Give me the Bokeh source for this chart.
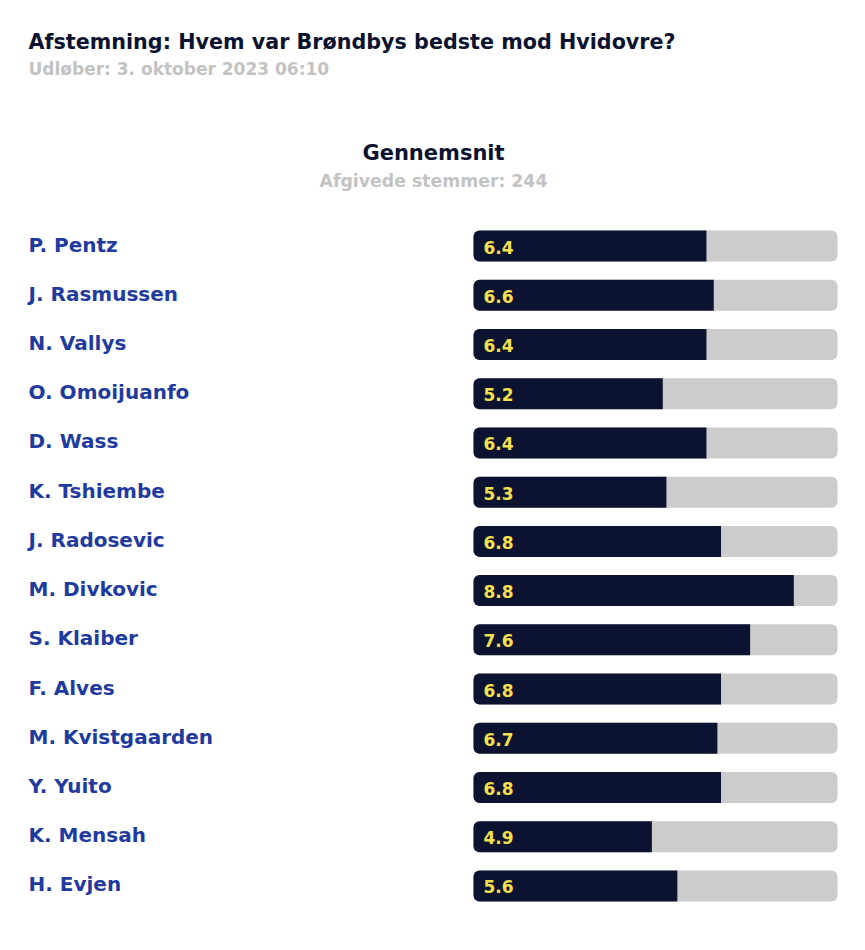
from bokeh.plotting import figure
from bokeh.models import Range1d, Label, ColumnDataSource
from bokeh.core.properties import value
from bokeh.embed import file_html
from bokeh.resources import INLINE

title = "Afstemning: Hvem var Brøndbys bedste mod Hvidovre?"
subtitle = "Udløber: 3. oktober 2023 06:10"
header = "Gennemsnit"
votes_label = "Afgivede stemmer: 244"

players = ["P. Pentz", "J. Rasmussen", "N. Vallys", "O. Omoijuanfo", "D. Wass",
           "K. Tshiembe", "J. Radosevic", "M. Divkovic", "S. Klaiber", "F. Alves",
           "M. Kvistgaarden", "Y. Yuito", "K. Mensah", "H. Evjen"]
ratings = [6.4, 6.6, 6.4, 5.2, 6.4, 5.3, 6.8, 8.8, 7.6, 6.8, 6.7, 6.8, 4.9, 5.6]
max_rating = 10

W, H = 865, 950
NAVY = "#0c1330"
BLUE = "#1f3b9f"
GRAY_TXT = "#c3c3c3"
BAR_BG = "#cccccc"
YELLOW = "#f4e04d"
FONT = "DejaVu Sans"

# layout: bar track from px 473 to 837, first row center at 245.5, row step 49.23
px_per_unit = (837 - 473) / max_rating
x0_px = 473
row0 = 245.5
step = 49.23

x_start = -x0_px / px_per_unit
x_end = (W - x0_px) / px_per_unit
y_top = (0 - row0) / step
y_bot = (H - row0) / step

idx = list(range(len(players)))
src = ColumnDataSource(dict(y=idx, name=players, val=ratings,
                            txt=[f"{v:.1f}" for v in ratings],
                            full=[max_rating] * len(players),
                            zero=[0] * len(players)))

p = figure(width=W, height=H, output_backend="svg", toolbar_location=None,
           x_range=Range1d(x_start, x_end), y_range=Range1d(y_bot, y_top),
           min_border=0, outline_line_color=None)
p.axis.visible = False
p.grid.visible = False
p.background_fill_color = "white"
p.border_fill_color = "white"

bh = 31 / step
p.hbar(y="y", left="zero", right="full", height=bh, source=src,
       fill_color=BAR_BG, line_color=None, border_radius=6)
p.hbar(y="y", left="zero", right="val", height=bh, source=src,
       fill_color=NAVY, line_color=None, border_radius=(6, 0, 0, 6))

p.text(x="zero", y="y", text="txt", source=src, x_offset=10, y_offset=1,
       text_color=YELLOW, text_font=value(FONT), text_font_style="bold",
       text_font_size="17px", text_baseline="middle", text_align="left")

p.text(x="zero", y="y", text="name", source=src, x_offset=28 - x0_px, y_offset=-1.5,
       text_color=BLUE, text_font=value(FONT), text_font_style="bold",
       text_font_size="20px", text_baseline="middle", text_align="left")

def lab(txt, x, y, size, color, align="left"):
    p.add_layout(Label(x=x, y=H - y, x_units="screen", y_units="screen", text=txt,
                       text_font=FONT, text_font_style="bold", text_font_size=size,
                       text_color=color, text_baseline="middle", text_align=align))

lab(title, 28, 41.5, "20.7px", NAVY)
lab(subtitle, 28, 68, "17px", GRAY_TXT)
lab(header, 433, 152.5, "21px", NAVY, "center")
lab(votes_label, 433, 180, "17.3px", GRAY_TXT, "center")

open("out.html", "w").write(file_html(p, INLINE))
